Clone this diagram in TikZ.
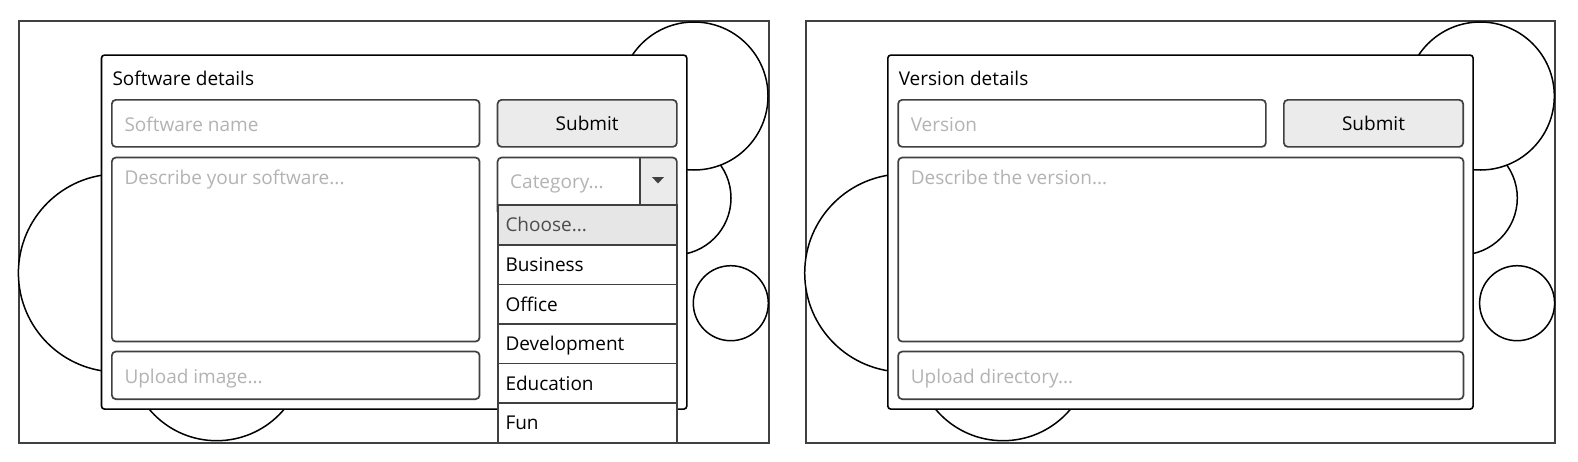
\documentclass[tikz,border=0pt]{standalone}
\usepackage{fontspec}
\setmainfont{Open Sans}
\usepackage{tikz}
\usetikzlibrary{positioning,calc}
\definecolor{edge}{HTML}{404040}
\definecolor{btngray}{HTML}{EBEBEB}
\definecolor{choosegray}{HTML}{E6E6E6}
\definecolor{holder}{HTML}{B3B3B3}
\definecolor{choosetxt}{HTML}{4D4D4D}
% #1 prefix, #2 x offset, #3 title, #4 name field, #5 description, #6 upload, #7 width of lower fields
\newcommand{\detailsform}[7]{
	\node[frame, minimum width=749.4, minimum height=421.7] (frame_#1) at (#2+18.3,20) {};
	\node[bubble, minimum size=114] (b_mid_#1) at (#2+674,198) {};
	\node[bubble, minimum size=198] (b_left_#1) at (#2+117.4,273) {};
	\node[bubble, minimum size=176] (b_bot_#1) at (#2+216.7,352.7) {};
	\node[bubble, minimum size=75] (b_small_#1) at (#2+730.8,303.2) {};
	\node[bubble, minimum size=148] (b_top_#1) at (#2+694,96) {};
	\node[card, minimum width=585.3, minimum height=354] (card_#1) at (#2+100.7,54.3) {};
	\node[anchor=base west, inner sep=0] (title_#1) at ($(card_#1.north west)+(11.6,31.4)$) {#3};
	
	\node[field, minimum width=367.7, minimum height=47] (name_#1) at (#2+111,99) {};
	\node[holder_txt] (name_txt_#1) at ($(name_#1.north west)+(13.3,32.5)$) {#4};
	\node[button, minimum width=179.3, minimum height=47] (submit_#1) at (#2+496.7,99) {Submit};
	
	\node[field, minimum width=#7, minimum height=184] (desc_#1) at (#2+111,156.7) {};
	\node[holder_txt] (desc_txt_#1) at ($(desc_#1.north west)+(13.3,27.6)$) {#5};
	\node[field, minimum width=#7, minimum height=47.6] (upload_#1) at (#2+111,350.7) {};
	\node[holder_txt] (upload_txt_#1) at ($(upload_#1.north west)+(13.3,32.6)$) {#6};
}

\begin{document}
\begin{tikzpicture}[x=1pt,y=-1pt,font=\fontsize{19}{22}\selectfont]
	\tikzstyle{frame}=[draw=edge, line width=2, anchor=north west, inner sep=0];
	\tikzstyle{bubble}=[draw, circle, fill=white, line width=1.5, inner sep=0];
	\tikzstyle{card}=[draw, fill=white, rounded corners=3, line width=1.6, anchor=north west, inner sep=0];
	\tikzstyle{field}=[draw=edge, fill=white, rounded corners=4, line width=1.7, anchor=north west, inner sep=0];
	\tikzstyle{button}=[field, fill=btngray];
	\tikzstyle{holder_txt}=[text=holder, anchor=base west, inner sep=0];
	\tikzstyle{opt}=[draw=edge, fill=white, line width=1.8, anchor=north west, inner sep=0, minimum width=179.3, minimum height=39.5];
	
	\useasboundingbox (0,0) rectangle (1578,461);
	
	\detailsform{s}{0}{Software details}{Software name}{Describe your software...}{Upload image...}{367.7}
	\detailsform{v}{786.3}{Version details}{Version}{Describe the version...}{Upload directory...}{565.3}
	
	% category drop-down
	\node[field, minimum width=179.3, minimum height=58, path picture={
		\fill[btngray] ([xshift=-36.7]path picture bounding box.north east) rectangle (path picture bounding box.south east);
		\draw[edge, line width=1.7] ([xshift=-36.7]path picture bounding box.north east) -- ([xshift=-36.7]path picture bounding box.south east);
	}] (cat) at (496.7,156.7) {};
	\node[holder_txt] (cat_txt) at ($(cat.north west)+(13.3,32)$) {Category...};
	\fill[edge] (652,177) -- (664,177) -- (658,183.5) -- cycle;
	
	\node[opt, fill=choosegray, minimum height=39.7] (choose) at (496.7,204.3) {};
	\node[anchor=base west, inner sep=0, text=choosetxt] (choose_txt) at ($(choose.north west)+(8.6,27.4)$) {Choose...};
	\foreach \cat [count=\i from 0] in {Business,Office,Development,Education,Fun}{
		\node[opt] (opt_\i) at (496.7,{244+39.5*\i}) {};
		\node[anchor=base west, inner sep=0] (opt_txt_\i) at ($(opt_\i.north west)+(8.6,27.7)$) {\cat};
	}
\end{tikzpicture}
\end{document}
